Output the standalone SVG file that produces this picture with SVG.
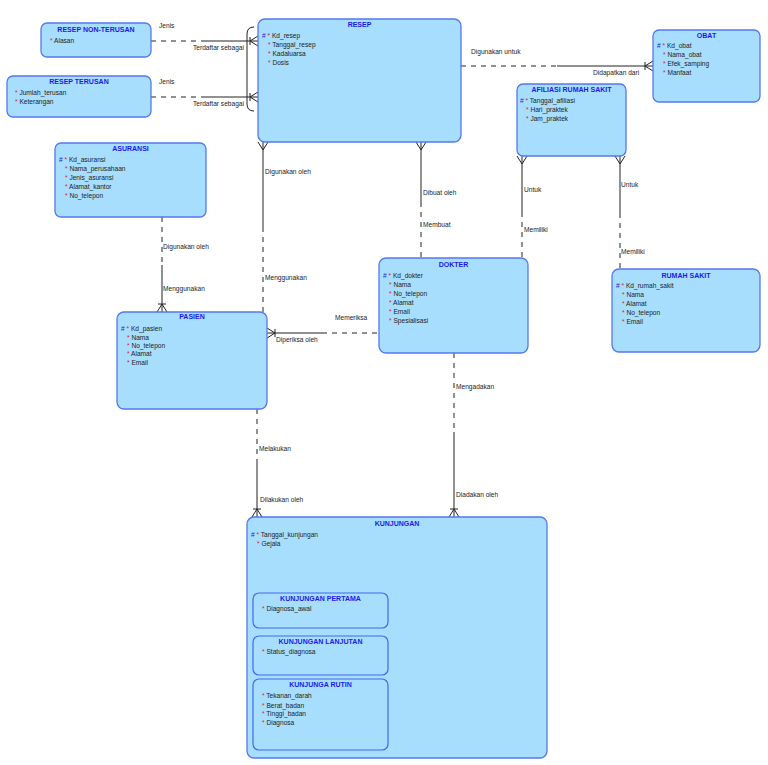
<svg xmlns="http://www.w3.org/2000/svg" width="768" height="765" viewBox="0 0 768 765">
<style>
.box{fill:#A8DEFD;stroke:#5577F2;stroke-width:1.3}
.sub{fill:#A8DEFD;stroke:#4466EE;stroke-width:1.2}
.t{font-family:"Liberation Sans",Arial,sans-serif;font-size:7px;font-weight:bold;fill:#1A1AF0;text-anchor:middle}
.a{font-family:"Liberation Sans",Arial,sans-serif;font-size:6.6px;fill:#222}
.r{fill:#E02020}
.k{fill:#2222E0}
.l{font-family:"Liberation Sans",Arial,sans-serif;font-size:6.6px;fill:#222}
.s{stroke:#222;stroke-width:1;fill:none}
.d{stroke:#222;stroke-width:1;fill:none;stroke-dasharray:5,5}
</style>
<rect width="768" height="765" fill="#fff"/>
<g id="connectors">
<!-- subtype arc -->
<path class="s" d="M254 27 Q247 27 247 34 L247 104 Q247 111 254 111"/>
<!-- NON-TERUSAN -> RESEP -->
<path class="d" d="M151 41 H204"/><path class="s" d="M204 41 H258 M258 36 L250 41 L258 46 M250 37 V45"/>
<!-- TERUSAN -> RESEP -->
<path class="d" d="M151 97 H204"/><path class="s" d="M204 97 H258 M258 92 L250 97 L258 102 M250 93 V101"/>
<!-- RESEP -> OBAT -->
<path class="d" d="M461 66 H557"/><path class="s" d="M557 66 H653 M653 61 L645 66 L653 71 M645 62 V70"/>
<!-- RESEP -> PASIEN -->
<path class="s" d="M263 142 V227 M258 142 L263 150 L268 142"/><path class="d" d="M263 227 V312"/>
<!-- RESEP -> DOKTER -->
<path class="s" d="M421 142 V202 M416 142 L421 150 L426 142"/><path class="d" d="M421 202 V258"/>
<!-- AFILIASI -> DOKTER -->
<path class="s" d="M522 156 V212 M517 156 L522 164 L527 156"/><path class="d" d="M522 212 V258"/>
<!-- AFILIASI -> RUMAH SAKIT -->
<path class="s" d="M620 156 V213 M615 156 L620 164 L625 156"/><path class="d" d="M620 213 V269"/>
<!-- ASURANSI -> PASIEN -->
<path class="d" d="M162 217 V265"/><path class="s" d="M162 265 V312 M157 312 L162 304 L167 312 M158 304 H166"/>
<!-- DOKTER -> PASIEN -->
<path class="s" d="M267 333 H322 M267 328 L275 333 L267 338 M275 329 V337"/><path class="d" d="M322 333 H379"/>
<!-- PASIEN -> KUNJUNGAN -->
<path class="d" d="M257 409 V463"/><path class="s" d="M257 463 V517 M252 517 L257 509 L262 517 M253 509 H261"/>
<!-- DOKTER -> KUNJUNGAN -->
<path class="d" d="M454 353 V432"/><path class="s" d="M454 432 V517 M449 517 L454 509 L459 517 M450 509 H458"/>
<!-- labels -->
<text class="l" x="159" y="28">Jenis</text>
<text class="l" x="193" y="50">Terdaftar sebagai</text>
<text class="l" x="159" y="84">Jenis</text>
<text class="l" x="193" y="106">Terdaftar sebagai</text>
<text class="l" x="471" y="53.5">Digunakan untuk</text>
<text class="l" x="593" y="74.5">Didapatkan dari</text>
<text class="l" x="265" y="173.5">Digunakan oleh</text>
<text class="l" x="265" y="280">Menggunakan</text>
<text class="l" x="163" y="248.5">Digunakan oleh</text>
<text class="l" x="163" y="290.5">Menggunakan</text>
<text class="l" x="423" y="194.5">Dibuat oleh</text>
<text class="l" x="423" y="226.5">Membuat</text>
<text class="l" x="524" y="191.5">Untuk</text>
<text class="l" x="524" y="231.5">Memiliki</text>
<text class="l" x="621" y="186.5">Untuk</text>
<text class="l" x="621" y="253.5">Memiliki</text>
<text class="l" x="335" y="319.5">Memeriksa</text>
<text class="l" x="276" y="341.5">Diperiksa oleh</text>
<text class="l" x="259" y="450.5">Melakukan</text>
<text class="l" x="260" y="501.5">Dilakukan oleh</text>
<text class="l" x="456" y="388.5">Mengadakan</text>
<text class="l" x="456" y="496.5">Diadakan oleh</text>
</g>
<g id="resep-non-terusan">
<rect class="box" x="41" y="23" width="110" height="34" rx="6"/>
<text class="t" x="96" y="31.5">RESEP NON-TERUSAN</text>
<text class="a" x="50" y="42.5"><tspan class="r">*</tspan> Alasan</text>
</g>
<g id="resep-terusan">
<rect class="box" x="7" y="76" width="144" height="41" rx="6"/>
<text class="t" x="79" y="83.5">RESEP TERUSAN</text>
<text class="a" x="15" y="94.5"><tspan class="r">*</tspan> Jumlah_terusan</text>
<text class="a" x="15" y="103.5"><tspan class="r">*</tspan> Keterangan</text>
</g>
<g id="resep">
<rect class="box" x="258" y="19" width="203" height="123" rx="7"/>
<text class="t" x="359.5" y="26.5">RESEP</text>
<text class="a" x="262" y="37.5"><tspan class="k">#</tspan> <tspan class="r">*</tspan> Kd_resep</text>
<text class="a" x="268" y="46.5"><tspan class="r">*</tspan> Tanggal_resep</text>
<text class="a" x="268" y="55.5"><tspan class="r">*</tspan> Kadaluarsa</text>
<text class="a" x="268" y="64.5"><tspan class="r">*</tspan> Dosis</text>
</g>
<g id="obat">
<rect class="box" x="653" y="30" width="107" height="72" rx="6"/>
<text class="t" x="706.5" y="37.5">OBAT</text>
<text class="a" x="657" y="47.5"><tspan class="k">#</tspan> <tspan class="r">*</tspan> Kd_obat</text>
<text class="a" x="663" y="56.5"><tspan class="r">*</tspan> Nama_obat</text>
<text class="a" x="663" y="65.5"><tspan class="r">*</tspan> Efek_samping</text>
<text class="a" x="663" y="74.5"><tspan class="r">*</tspan> Manfaat</text>
</g>
<g id="afiliasi-rumah-sakit">
<rect class="box" x="517" y="84" width="109" height="72" rx="6"/>
<text class="t" x="571.5" y="91.5">AFILIASI RUMAH SAKIT</text>
<text class="a" x="520" y="102.5"><tspan class="k">#</tspan> <tspan class="r">*</tspan> Tanggal_afiliasi</text>
<text class="a" x="526" y="111.5"><tspan class="r">*</tspan> Hari_praktek</text>
<text class="a" x="526" y="120.5"><tspan class="r">*</tspan> Jam_praktek</text>
</g>
<g id="asuransi">
<rect class="box" x="55" y="143" width="151" height="74" rx="6"/>
<text class="t" x="130.5" y="150.5">ASURANSI</text>
<text class="a" x="59" y="161.5"><tspan class="k">#</tspan> <tspan class="r">*</tspan> Kd_asuransi</text>
<text class="a" x="65" y="170.5"><tspan class="r">*</tspan> Nama_perusahaan</text>
<text class="a" x="65" y="179.5"><tspan class="r">*</tspan> Jenis_asuransi</text>
<text class="a" x="65" y="188.5"><tspan class="r">*</tspan> Alamat_kantor</text>
<text class="a" x="65" y="198"><tspan class="r">*</tspan> No_telepon</text>
</g>
<g id="pasien">
<rect class="box" x="117" y="312" width="150" height="97" rx="7"/>
<text class="t" x="192" y="319">PASIEN</text>
<text class="a" x="121" y="330.5"><tspan class="k">#</tspan> <tspan class="r">*</tspan> Kd_pasien</text>
<text class="a" x="127" y="339.5"><tspan class="r">*</tspan> Nama</text>
<text class="a" x="127" y="347.5"><tspan class="r">*</tspan> No_telepon</text>
<text class="a" x="127" y="356"><tspan class="r">*</tspan> Alamat</text>
<text class="a" x="127" y="365"><tspan class="r">*</tspan> Email</text>
</g>
<g id="dokter">
<rect class="box" x="379" y="258" width="149" height="95" rx="7"/>
<text class="t" x="453.5" y="266.5">DOKTER</text>
<text class="a" x="383" y="277.5"><tspan class="k">#</tspan> <tspan class="r">*</tspan> Kd_dokter</text>
<text class="a" x="389" y="286.5"><tspan class="r">*</tspan> Nama</text>
<text class="a" x="389" y="295.5"><tspan class="r">*</tspan> No_telepon</text>
<text class="a" x="389" y="304.5"><tspan class="r">*</tspan> Alamat</text>
<text class="a" x="389" y="313.5"><tspan class="r">*</tspan> Email</text>
<text class="a" x="389" y="322.5"><tspan class="r">*</tspan> Spesialisasi</text>
</g>
<g id="rumah-sakit">
<rect class="box" x="612" y="269" width="148" height="83" rx="7"/>
<text class="t" x="686" y="277.5">RUMAH SAKIT</text>
<text class="a" x="616" y="287.5"><tspan class="k">#</tspan> <tspan class="r">*</tspan> Kd_rumah_sakit</text>
<text class="a" x="622" y="296.5"><tspan class="r">*</tspan> Nama</text>
<text class="a" x="622" y="305.5"><tspan class="r">*</tspan> Alamat</text>
<text class="a" x="622" y="314.5"><tspan class="r">*</tspan> No_telepon</text>
<text class="a" x="622" y="324"><tspan class="r">*</tspan> Email</text>
</g>
<g id="kunjungan">
<rect class="box" x="247" y="517" width="300" height="241" rx="7"/>
<text class="t" x="397" y="525.5">KUNJUNGAN</text>
<text class="a" x="251" y="536.5"><tspan class="k">#</tspan> <tspan class="r">*</tspan> Tanggal_kunjungan</text>
<text class="a" x="257" y="545.5"><tspan class="r">*</tspan> Gejala</text>
</g>
<g id="kunjungan-pertama">
<rect class="sub" x="253" y="593" width="135" height="35" rx="6"/>
<text class="t" x="320.5" y="600.5">KUNJUNGAN PERTAMA</text>
<text class="a" x="262" y="610.5"><tspan class="r">*</tspan> Diagnosa_awal</text>
</g>
<g id="kunjungan-lanjutan">
<rect class="sub" x="253" y="636" width="135" height="39" rx="6"/>
<text class="t" x="320.5" y="643.5">KUNJUNGAN LANJUTAN</text>
<text class="a" x="262" y="654"><tspan class="r">*</tspan> Status_diagnosa</text>
</g>
<g id="kunjungan-rutin">
<rect class="sub" x="253" y="679" width="135" height="71" rx="6"/>
<text class="t" x="320.5" y="686.5">KUNJUNGA RUTIN</text>
<text class="a" x="262" y="697.5"><tspan class="r">*</tspan> Tekanan_darah</text>
<text class="a" x="262" y="707.5"><tspan class="r">*</tspan> Berat_badan</text>
<text class="a" x="262" y="716"><tspan class="r">*</tspan> Tinggi_badan</text>
<text class="a" x="262" y="725"><tspan class="r">*</tspan> Diagnosa</text>
</g>
</svg>
